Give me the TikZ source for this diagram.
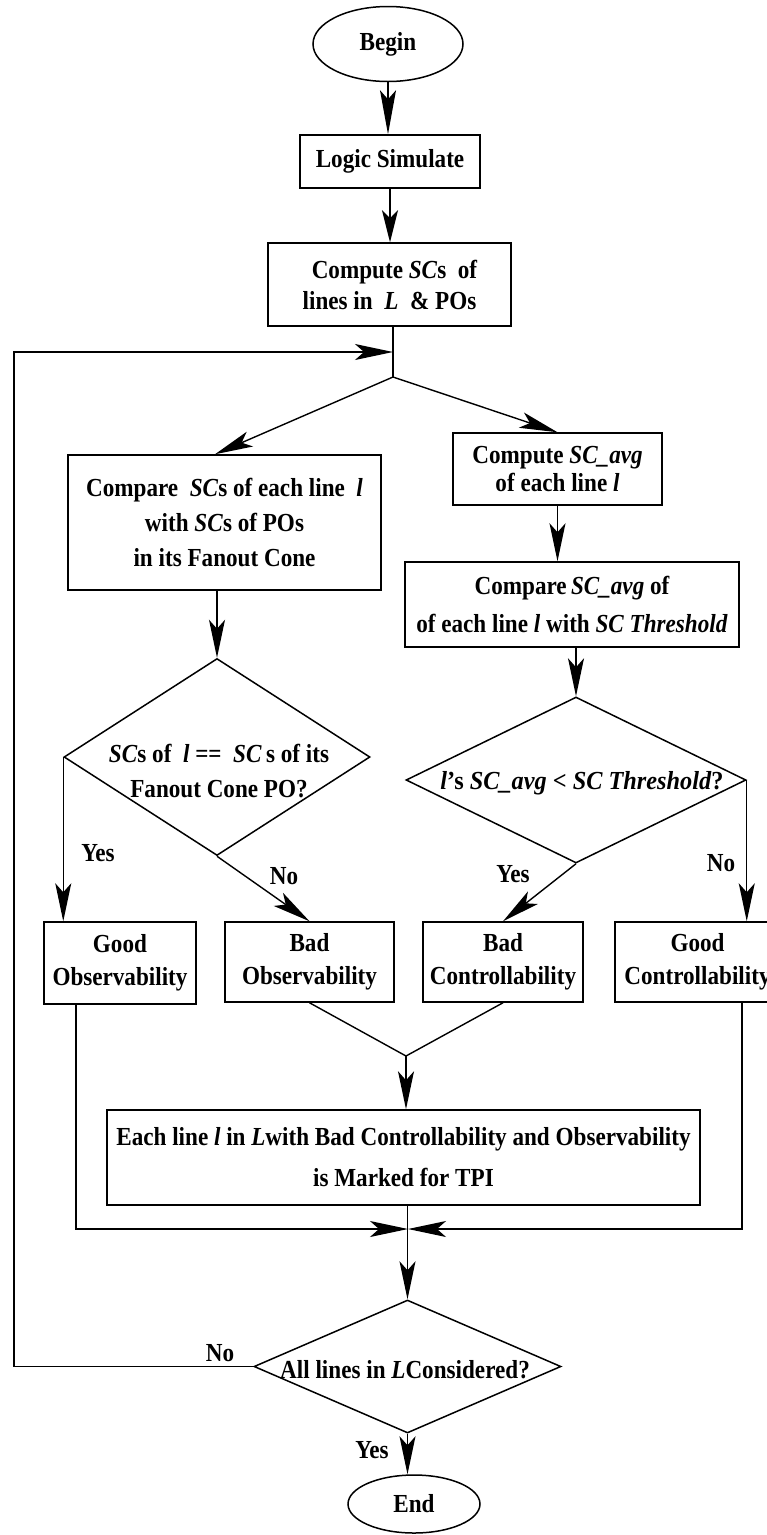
\documentclass[tikz,border=0pt]{standalone}
\usepackage{fontspec}
\usepackage{graphicx}
\setmainfont{Liberation Serif}[FakeStretch=0.89]
\usetikzlibrary{arrows.meta,shapes.geometric,calc}
\begin{document}
\begin{tikzpicture}[x=1pt,y=-1pt,
  txt/.style={font=\fontsize{26}{#1}\selectfont\bfseries},
  txt/.default=30,
  box/.style={draw,rectangle,line width=1.5pt,inner sep=0pt,align=center,txt},
  ell/.style={draw,ellipse,line width=1.5pt,inner sep=0pt,txt},
  dia/.style={draw,diamond,line width=1.5pt,inner sep=0pt},
  ln/.style={line width=1.4pt},
  arr/.style={-{Stealth[length=38pt,width=16pt,inset=9pt]}},
  lbl/.style={txt,inner sep=0pt}]
\useasboundingbox (0,0) rectangle (767,1535);

% nodes
\node[ell,minimum width=150pt,minimum height=75pt] (begin) at (388,44) {Begin};
\node[box,minimum width=180pt,minimum height=53pt] (logic) at (390,161.5) {Logic Simulate};
\node[box,txt=31,minimum width=243pt,minimum height=83pt] (compute) at (389.5,284.5)
  {\hspace*{10pt}Compute \textit{SC}s\ \ of\\lines in\ \ \textit{L}\ \ \& POs};
\node[box,txt=35,minimum width=313pt,minimum height=135pt] (cmpL) at (224.5,522.5)
  {Compare\ \ \textit{SC}s of each line\ \ \textit{l}\\with \textit{SC}s of POs\\in its Fanout Cone};
\node[box,txt=28,minimum width=209pt,minimum height=72pt] (avg) at (557.5,469)
  {Compute \textit{SC\_avg}\\of each line \textit{l}};
\node[box,txt=38,minimum width=334pt,minimum height=85pt] (cmpR) at (572,604.5)
  {Compare\,\textit{SC\_avg} of\\of each line \textit{l} with \textit{SC Threshold}};
\node[dia,minimum width=306pt,minimum height=197pt] (dL) at (217,757) {};
\node[lbl,txt=35,align=center] (dLt) at (219,771)
  {\textit{SC}s of\ \ \textit{l} ==\ \ \textit{SC}\,s of its\\Fanout Cone PO?};
\node[dia,minimum width=340pt,minimum height=166pt] (dR) at (576,780) {};
\node[lbl] (dRt) at (582,783)
  {\scalebox{1.05}[1]{\textit{l}’s \textit{SC\_avg \textless{} SC Threshold}?}};
\node[box,txt=33,minimum width=152pt,minimum height=82pt] (gObs) at (120,963) {Good\\Observability};
\node[box,txt=33,minimum width=169pt,minimum height=80pt] (bObs) at (309.5,962) {Bad\\Observability};
\node[box,txt=33,minimum width=160pt,minimum height=80pt] (bCtl) at (503,962) {Bad\\Controllability};
\node[box,txt=33,minimum width=165pt,minimum height=80pt] (gCtl) at (697.5,962) {Good\\Controllability};
\node[box,txt=41,minimum width=593pt,minimum height=95pt] (tpi) at (403.5,1157.5)
  {Each line \textit{l} in \textit{L}with Bad Controllability and Observability\\is Marked for TPI};
\node[dia,minimum width=307pt,minimum height=133pt] (dB) at (407.5,1366.5) {};
\node[lbl] (dBt) at (405,1370) {All lines in \textit{L}Considered?};
\node[ell,minimum width=132pt,minimum height=58pt] (end) at (414,1504) {End};

% labels
\node[lbl] (yes1) at (98,853) {Yes};
\node[lbl] (no1) at (284,876) {No};
\node[lbl] (yes2) at (513,874) {Yes};
\node[lbl] (no2) at (721,863) {No};
\node[lbl] (no3) at (220,1353) {No};
\node[lbl] (yes3) at (372,1450) {Yes};

% helper coordinates
\coordinate (J) at (393,377);
\coordinate (L) at (393,352);
\coordinate (lp) at (14,352);
\coordinate (M) at (406,1056);
\coordinate (C) at (408,1229);
\coordinate (gObsOut) at (76,1004);
\coordinate (gCtlOut) at (742,1003);

% connectors
\draw[ln,-{Stealth[length=44pt,width=16pt,inset=9pt]}] (begin.south) -- (begin.south |- logic.north);
\draw[ln,-{Stealth[length=32pt,width=16pt,inset=8pt]}] (logic.south) -- (logic.south |- compute.north);
\draw[ln] (compute.south -| J) -- (J);
\draw[ln,arr] (J) -- ([xshift=-9.5pt]cmpL.north);
\draw[ln,arr] (J) -- (avg.north);
\draw[ln,arr] (dL.north |- cmpL.south) -- (dL.north);
\draw[ln,arr] (avg.south) -- (avg.south |- cmpR.north);
\draw[ln,arr] (dR.north |- cmpR.south) -- (dR.north);
\draw[ln,arr] (dL.west) -- (dL.west |- gObs.north);
\draw[ln,arr] (dL.south) -- (bObs.north);
\draw[ln,arr] (dR.south) -- (bCtl.north);
\draw[ln,arr] (dR.east) -- (dR.east |- gCtl.north);
\draw[ln] (bObs.south) -- (M) -- (bCtl.south);
\draw[ln,arr] (M) -- (M |- tpi.north);
\draw[ln,arr] (dB.north |- tpi.south) -- (dB.north);
\draw[ln,arr] (gObsOut) |- (C);
\draw[ln,arr] (gCtlOut) |- (C);
\draw[ln,arr] (dB.west) -| (lp) -- (L);
\draw[ln,arr] (dB.south) -- (dB.south |- end.north);
\end{tikzpicture}
\end{document}
